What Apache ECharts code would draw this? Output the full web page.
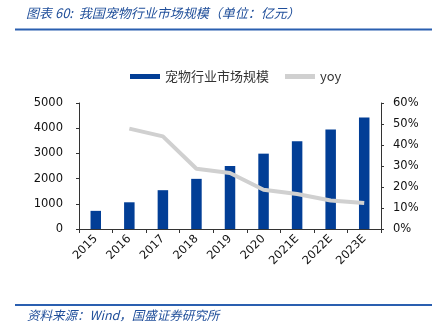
<!DOCTYPE html>
<html>
<head>
<meta charset="utf-8">
<script src="https://cdn.jsdelivr.net/npm/echarts@6/dist/echarts.min.js"></script>
<style>html,body{margin:0;padding:0;background:#fff;}#c{width:438px;height:330px;}</style>
</head>
<body>
<div id="c"></div>
<script>
var categories = ['2015','2016','2017','2018','2019','2020','2021E','2022E','2023E'];
var marketSize = [720, 1060, 1540, 1990, 2500, 2990, 3480, 3950, 4420];
var yoy = [null, 47.8, 44.1, 28.7, 26.7, 18.7, 16.7, 13.6, 12.4];
var leftTicks = {min: 0, max: 5000, interval: 1000};
var rightTicks = {min: 0, max: 60, interval: 10};
var titleText = '图表 60:  我国宠物行业市场规模（单位：亿元）';
var sourceText = '资料来源：Wind，国盛证券研究所';

var chart = echarts.init(document.getElementById('c'), null, {renderer: 'canvas'});
var numFont = 'DejaVu Sans';
var cjkFont = '"Noto Sans CJK SC", sans-serif';
chart.setOption({
  animation: false,
  backgroundColor: '#fff',
  graphic: [
    {type: 'text', left: 26, top: 7, style: {text: titleText, fill: '#1f4e9a', font: 'italic 13px ' + cjkFont}},
    {type: 'line', shape: {x1: 15, y1: 29.5, x2: 432, y2: 29.5}, style: {stroke: '#2a5fb0', lineWidth: 2}},
    {type: 'line', shape: {x1: 15, y1: 305, x2: 432, y2: 305}, style: {stroke: '#2a5fb0', lineWidth: 2}},
    {type: 'text', left: 27, top: 309, style: {text: sourceText, fill: '#1f4e9a', font: 'italic 12.5px ' + cjkFont}}
  ],
  legend: {
    top: 65, left: 125,
    itemWidth: 30, itemHeight: 5, itemGap: 16,
    textStyle: {fontFamily: cjkFont, fontSize: 13, color: '#333'},
    data: [{name: '宠物行业市场规模', icon: 'rect'}, {name: 'yoy', icon: 'rect'}]
  },
  grid: {left: 79, right: 57, top: 103, bottom: 101},
  xAxis: {
    type: 'category', data: categories,
    axisLine: {lineStyle: {color: '#333', width: 1}},
    axisTick: {show: true, length: 4, alignWithLabel: false, lineStyle: {color: '#333'}},
    axisLabel: {rotate: 45, fontFamily: numFont, fontSize: 11.5, color: '#111', margin: 8, interval: 0}
  },
  yAxis: [
    {
      type: 'value', min: leftTicks.min, max: leftTicks.max, interval: leftTicks.interval,
      splitLine: {show: false},
      axisLine: {show: true, lineStyle: {color: '#333'}},
      axisTick: {show: true, length: 3, lineStyle: {color: '#333'}},
      axisLabel: {fontFamily: numFont, fontSize: 11.5, color: '#111', margin: 16, formatter: function (v) { return String(v); }}
    },
    {
      type: 'value', min: rightTicks.min, max: rightTicks.max, interval: rightTicks.interval,
      splitLine: {show: false},
      axisLine: {show: true, lineStyle: {color: '#333'}},
      axisTick: {show: true, length: 3, lineStyle: {color: '#333'}},
      axisLabel: {fontFamily: numFont, fontSize: 11.5, color: '#111', margin: 12, formatter: '{value}%'}
    }
  ],
  series: [
    {
      name: '宠物行业市场规模', type: 'bar', data: marketSize, yAxisIndex: 0,
      barWidth: 10.5, itemStyle: {color: '#023e96'}
    },
    {
      name: 'yoy', type: 'line', data: yoy, yAxisIndex: 1,
      showSymbol: false, symbol: 'none',
      lineStyle: {color: '#d0d0d0', width: 4}, itemStyle: {color: '#d0d0d0'}
    }
  ]
});
</script>
</body>
</html>
